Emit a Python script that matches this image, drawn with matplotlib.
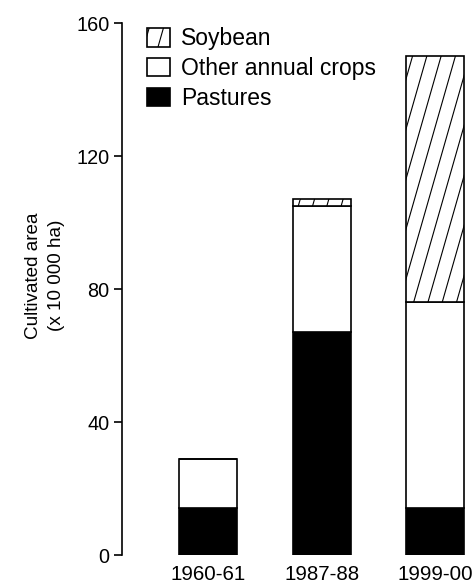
import numpy as np
import matplotlib
matplotlib.use("Agg")
import matplotlib.pyplot as plt
import matplotlib.hatch as mhatch
from matplotlib.path import Path

# ---- data ----
years = ["1960-61", "1987-88", "1999-00"]
pastures = [14, 67, 14]
other_crops = [15, 38, 62]
soybean = [0, 2, 74]
series_labels = ["Soybean", "Other annual crops", "Pastures"]
yticks = [0, 40, 80, 120, 160]

# ---- steep diagonal hatch (custom styling of '/') ----
_N, _M = 7, 2
def _ne_init(self, hatch, density):
    cnt = hatch.count('/') + hatch.count('x') + hatch.count('X')
    self.num_lines = (_N + _M) if cnt else 0
    self.num_vertices = self.num_lines * 2
def _ne_set(self, vertices, codes):
    ks = np.arange(-_M, _N)
    vertices[0::2, 0] = ks / _N
    vertices[0::2, 1] = 0.0
    vertices[1::2, 0] = (ks + _M) / _N
    vertices[1::2, 1] = 1.0
    codes[0::2] = Path.MOVETO
    codes[1::2] = Path.LINETO
mhatch.NorthEastHatch.__init__ = _ne_init
mhatch.NorthEastHatch.set_vertices_and_codes = _ne_set

plt.rcParams['font.family'] = ['Liberation Sans', 'DejaVu Sans']
plt.rcParams['hatch.linewidth'] = 0.8
plt.rcParams['hatch.color'] = 'black'

fig = plt.figure(figsize=(4.76, 5.83), dpi=100)
ax = fig.add_axes([0.2563, 0.048, 0.742, 0.9125])

x = np.arange(len(years))
w = 0.51
lw = 1.2
b1 = ax.bar(x, pastures, w, color='black', edgecolor='black', linewidth=lw, label=series_labels[2])
b2 = ax.bar(x, other_crops, w, bottom=pastures, color='white', edgecolor='black', linewidth=lw, label=series_labels[1])
bottom2 = [p + o for p, o in zip(pastures, other_crops)]
b3 = ax.bar(x, soybean, w, bottom=bottom2, color='white', edgecolor='black', linewidth=lw, hatch='/', label=series_labels[0])

ax.set_xlim(-0.754, 2.35)
ax.set_ylim(0, 160)
ax.set_yticks(yticks)
ax.set_xticks(x)
ax.set_xticklabels(years)
ax.tick_params(axis='y', direction='out', length=6, width=1.2, labelsize=14.3, pad=3)
ax.tick_params(axis='x', length=0, labelsize=14.8, pad=7)
for s in ['top', 'right', 'bottom']:
    ax.spines[s].set_visible(False)
ax.spines['left'].set_linewidth(1.2)

ax.set_ylabel("Cultivated area\n(x 10 000 ha)", fontsize=13.6, linespacing=1.5)
ax.yaxis.set_label_coords(-0.16, 0.525)

leg = ax.legend(handles=[b3, b2, b1], labels=series_labels, loc='upper left',
                bbox_to_anchor=(0.045, 1.009), frameon=False, fontsize=16.5,
                handlelength=1.0, handleheight=0.85, handletextpad=0.5,
                labelspacing=0.3, borderaxespad=0)

fig.savefig("out.png", dpi=100)
